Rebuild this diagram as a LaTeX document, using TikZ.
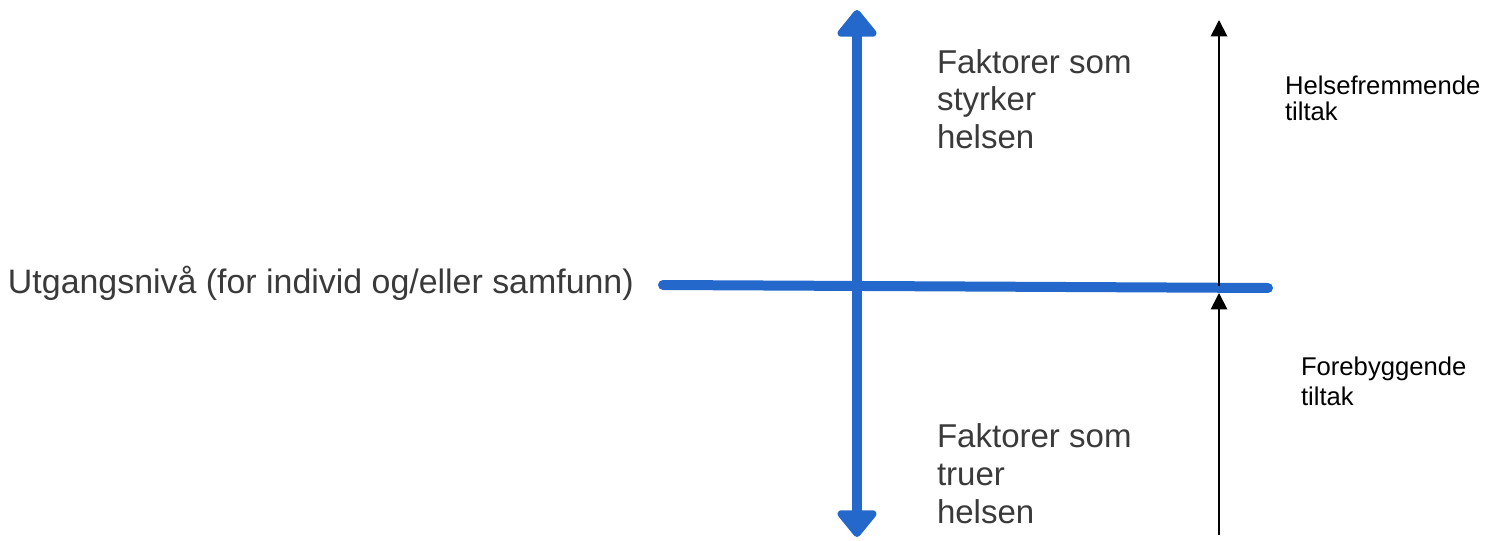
\documentclass[tikz,border=0pt]{standalone}
\usepackage{fontspec}
\setmainfont{Liberation Sans}
\usetikzlibrary{arrows.meta}
\definecolor{markerblue}{RGB}{36,104,204}
\definecolor{scangray}{RGB}{58,58,58}
\begin{document}
\begin{tikzpicture}[x=0.02cm, y=-0.02cm, inner sep=0pt, outer sep=0pt,
    axis/.style={markerblue, line width=0.2cm, line cap=round},
    bluetip/.style={-{Triangle[round, width=0.9cm, length=0.58cm]}},
    tiltak/.style={black, line width=1.1pt, -{Triangle[width=0.33cm, length=0.33cm]}},
    scanned/.style={scangray, font=\fontsize{18.8}{20.8}\selectfont, align=left, anchor=base west},
    typed/.style={black, font=\fontsize{14.6}{14.9}\selectfont, align=left, anchor=base west}]
  % pixel grid of the 1499 x 541 sketch, y axis pointing down
  \useasboundingbox (0,0) rectangle (1499,541);
  \coordinate (left) at (663,285);
  \coordinate (right) at (1268,288);
  \coordinate (up) at (857,10);
  \coordinate (down) at (857,537);
  \coordinate (centre) at (857,286);
  \coordinate (hfTop) at (1219,20);
  \coordinate (hfBase) at (1219,286);
  \coordinate (fbTop) at (1219,293);
  \coordinate (fbBase) at (1219,535);
  \draw[axis] (left) -- (right);
  \draw[axis, bluetip] (centre) -- (up);
  \draw[axis, bluetip] (centre) -- (down);
  \draw[tiltak] (hfBase) -- (hfTop);
  \draw[tiltak] (fbBase) -- (fbTop);
  % multi-line nodes sit on the baseline of their last line
  \node[scanned, font=\fontsize{19.3}{21}\selectfont] (level) at (8,293) {Utgangsnivå (for individ og/eller samfunn)};
  \node[scanned] (strong) at (937,148) {Faktorer som\\[0.5pt]styrker\\[0.5pt]helsen};
  \node[scanned] (threat) at (937,523) {Faktorer som\\[0.5pt]truer\\[0.8pt]helsen};
  \node[typed] (promo) at (1285,120) {Helsefremmende\\[-0.5pt]tiltak};
  \node[typed] (prevent) at (1301,405) {Forebyggende\\[2pt]tiltak};
\end{tikzpicture}
\end{document}
